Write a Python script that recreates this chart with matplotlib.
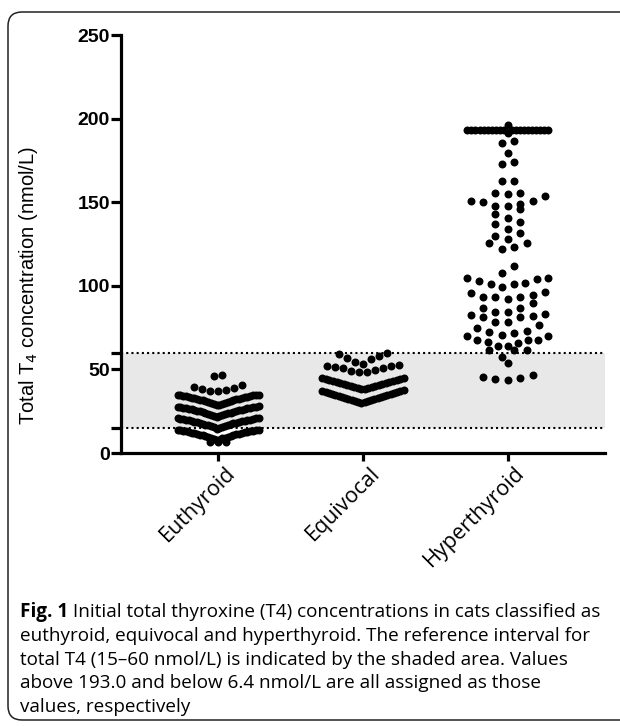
import matplotlib
matplotlib.use("Agg")
import matplotlib.pyplot as plt
import matplotlib.transforms as mtransforms
import numpy as np
from matplotlib.patches import FancyBboxPatch

# ---- data (nmol/L) ----
groups = ["Euthyroid", "Equivocal", "Hyperthyroid"]

euthyroid = [
    6.4, 6.4, 6.4,
    7.6, 8.0, 8.3, 8.7, 9.0, 9.2, 9.5, 9.8, 10.0, 10.2, 10.5, 10.7, 10.9, 11.1, 11.3,
    11.5, 11.8, 12.0, 12.1, 12.3, 12.5, 12.7, 12.9, 13.0, 13.2, 13.4, 13.5, 13.7, 13.8, 13.9,
    14.6, 15.0, 15.3, 15.6, 16.0, 16.2, 16.5, 16.8, 17.0, 17.2, 17.5, 17.7, 17.9, 18.1, 18.3,
    18.5, 18.8, 19.0, 19.1, 19.3, 19.5, 19.7, 19.9, 20.0, 20.2, 20.4, 20.5, 20.7, 20.8, 20.9,
    21.6, 22.0, 22.3, 22.6, 23.0, 23.2, 23.5, 23.8, 24.0, 24.2, 24.5, 24.7, 24.9, 25.1, 25.3,
    25.5, 25.8, 26.0, 26.1, 26.3, 26.5, 26.7, 26.9, 27.0, 27.2, 27.4, 27.5, 27.7, 27.8, 27.9,
    28.6, 29.0, 29.3, 29.6, 30.0, 30.2, 30.5, 30.8, 31.0, 31.2, 31.5, 31.7, 31.9, 32.1, 32.3,
    32.5, 32.8, 33.0, 33.1, 33.3, 33.5, 33.7, 33.9, 34.0, 34.2, 34.4, 34.5, 34.7, 34.8, 34.9,
    36.8, 37.0, 37.6, 38.4, 38.8, 39.6, 40.6,
    46.0, 46.8,
]

equivocal = [
    30.2, 30.4, 30.7, 31.0, 31.3, 31.6, 31.9, 32.2, 32.5, 32.8, 33.1, 33.4, 33.7,
    34.0, 34.3, 34.6, 34.9, 35.2, 35.5, 35.8, 36.1, 36.4, 36.7, 37.0, 37.2, 37.4,
    38.0, 38.3, 38.6, 38.9, 39.2, 39.5, 39.8, 40.1, 40.4, 40.7, 41.0, 41.3,
    41.6, 41.9, 42.2, 42.5, 42.8, 43.1, 43.4, 43.7, 44.0, 44.3, 44.6, 44.8,
    48.4, 48.4, 49.2, 49.8, 50.6, 50.8, 51.6, 52.0, 52.2, 52.4,
    53.2, 54.6, 56.0, 56.9, 58.3, 59.3, 59.7,
]

hyperthyroid = [
    196.1,
    193.0, 193.0, 193.0, 193.0, 193.0, 193.0, 193.0, 193.0, 193.0, 193.0,
    193.0, 193.0, 193.0, 193.0, 193.0, 193.0, 193.0, 193.0, 193.0, 193.0,
    191.1, 186.7, 185.2, 179.6, 174.2, 172.8, 162.7, 162.7,
    155.7, 154.9, 153.9, 155.7,
    150.7, 149.9, 147.9, 145.7, 147.9, 148.7, 150.7,
    140.7, 138.0, 142.8, 137.0,
    133.8, 129.8, 131.4, 127.8, 125.8, 123.4, 121.9, 125.8,
    111.9,
    107.9, 104.9, 102.9, 101.9, 103.9, 104.9, 100.9, 99.2, 100.9,
    96.5, 94.6, 95.9, 93.2, 92.0, 93.2, 93.5,
    84.6, 83.2, 82.2, 86.6, 86.6, 81.2, 89.6, 78.6, 78.6, 81.6, 82.6, 84.6,
    76.6, 73.2, 72.0, 69.7, 69.7, 70.7, 72.6, 74.7,
    67.7, 66.1, 64.1, 61.7, 61.7, 61.7, 63.7, 65.7, 67.7, 67.7,
    57.3, 53.8,
    46.8, 44.8, 43.8, 44.2, 45.2,
]

ref_low, ref_high = 15, 60
y_ticks = [0, 50, 100, 150, 200, 250]

caption_bold = "Fig. 1"
caption_lines = [
    " Initial total thyroxine (T4) concentrations in cats classified as",
    "euthyroid, equivocal and hyperthyroid. The reference interval for",
    "total T4 (15\u201360 nmol/L) is indicated by the shaded area. Values",
    "above 193.0 and below 6.4 nmol/L are all assigned as those",
    "values, respectively",
]


def swarm_x(values, center, row_start, row_h, step, max_w):
    # Prism-like column scatter: values binned in rows, lowest in the middle
    values = np.asarray(values, float)
    xs = np.zeros(len(values))
    rows = np.floor((values - row_start) / row_h).astype(int)
    for r in np.unique(rows):
        idx = np.where(rows == r)[0]
        idx = idx[np.argsort(values[idx], kind="stable")]
        n = len(idx)
        s = step if n < 2 else min(step, max_w / (n - 1))
        offs = (np.arange(n) - (n - 1) / 2) * s
        order = np.argsort(np.abs(offs) + 1e-9 * offs, kind="stable")
        xs[idx] = center + offs[order]
    return xs


W, H = 620, 726
fig = plt.figure(figsize=(W / 100, H / 100), dpi=100)

# pixel-space background axes for the frame and caption
bg = fig.add_axes([0, 0, 1, 1])
bg.set_xlim(0, W)
bg.set_ylim(H, 0)
bg.axis("off")
bg.add_patch(FancyBboxPatch((8, 12), 660, 708,
                            boxstyle="round,pad=0,rounding_size=14",
                            fc="white", ec="#222222", lw=1.1))

ax = fig.add_axes([121 / W, 1 - 453 / H, (605 - 121) / W, (453 - 35) / H])
ax.set_facecolor("none")

ax.axhspan(ref_low, ref_high, color="#e8e8e8", zorder=0, lw=0)
for v in (ref_low, ref_high):
    ax.axhline(v, color="black", lw=1.5, ls=(0, (1, 1.5)), zorder=1)

layout = [(0, 7.0, 0.055), (30, 7.5, 0.055), (0, 7.0, 0.086)]
for i, vals in enumerate([euthyroid, equivocal, hyperthyroid]):
    start, rh, step = layout[i]
    xs = swarm_x(vals, i, start, rh, step, 0.56)
    ax.scatter(xs, vals, s=33, color="black", lw=0, zorder=3)

ax.set_xlim(-0.67, 2.67)
ax.set_ylim(0, 250)
for side in ("top", "right"):
    ax.spines[side].set_visible(False)
for side in ("left", "bottom"):
    ax.spines[side].set_linewidth(2.3)

ax.set_yticks(y_ticks)
ax.set_yticks([ref_low, ref_high], minor=True)
ax.set_yticklabels([str(t) for t in y_ticks], fontfamily="Liberation Sans",
                   fontweight="bold", fontsize=14)
ax.tick_params(axis="y", which="both", length=7, width=2.3, pad=1)
ax.set_xticks(range(len(groups)))
ax.set_xticklabels(groups, rotation=45, ha="right", va="center",
                   rotation_mode="anchor", fontfamily="Open Sans", fontsize=15.5)
ax.tick_params(axis="x", length=6, width=2.3, pad=6)
shift = mtransforms.ScaledTranslation(10 / 72, 0, fig.dpi_scale_trans)
for lab in ax.get_xticklabels():
    lab.set_transform(lab.get_transform() + shift)

ax.set_ylabel("Total T$_4$ concentration (nmol/L)", fontfamily="Liberation Sans",
              fontsize=14.5)
ax.yaxis.set_label_coords(-0.168, 0.40)

# caption
cap_font = dict(fontfamily="Open Sans", fontsize=13.6, va="baseline")
tb = bg.text(20, 617, caption_bold, fontweight="bold", **cap_font)
fig.canvas.draw()
x_after = tb.get_window_extent().x1
for k, line in enumerate(caption_lines):
    x0 = x_after if k == 0 else 20
    bg.text(x0, 617 + 23.8 * k, line, **cap_font)

fig.savefig("out.png", dpi=100)
